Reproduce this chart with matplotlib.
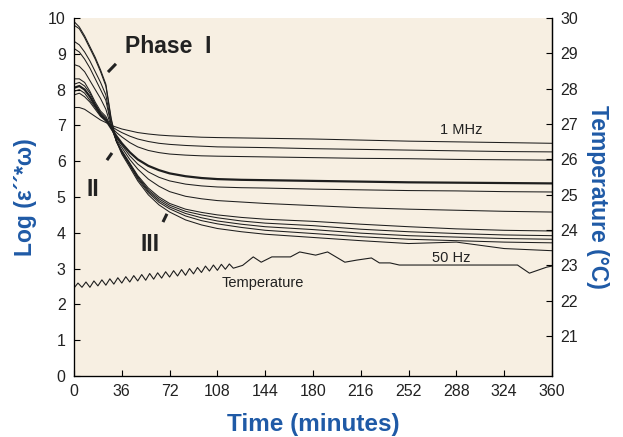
import matplotlib
matplotlib.use("Agg")
import matplotlib.pyplot as plt

plt.rcParams["font.family"] = ["Liberation Sans", "DejaVu Sans"]

# ---------------- data ----------------
time = [0, 4, 8, 12, 16, 20, 24, 28, 32, 36, 42, 48, 56, 64, 72, 84, 96, 108,
        126, 144, 180, 216, 252, 288, 324, 360]

curve_1mhz = [7.5, 7.5, 7.45, 7.35, 7.25, 7.15, 7.08, 7.0, 6.95, 6.9, 6.85, 6.8, 6.76,
              6.73, 6.71, 6.69, 6.67, 6.66, 6.65, 6.64, 6.62, 6.59, 6.56, 6.54, 6.52, 6.5]
curve_2 = [7.85, 7.9, 7.8, 7.65, 7.45, 7.25, 7.12, 6.98, 6.88, 6.8, 6.7, 6.62, 6.55,
           6.5, 6.47, 6.44, 6.42, 6.4, 6.39, 6.38, 6.35, 6.33, 6.31, 6.29, 6.27, 6.26]
curve_3 = [7.95, 8.0, 7.9, 7.7, 7.5, 7.3, 7.15, 6.95, 6.8, 6.68, 6.52, 6.4, 6.3,
           6.24, 6.2, 6.17, 6.15, 6.14, 6.13, 6.12, 6.1, 6.08, 6.07, 6.05, 6.04, 6.03]
curve_4 = [8.05, 8.1, 8.0, 7.8, 7.55, 7.3, 7.15, 6.92, 6.7, 6.5, 6.25, 6.05, 5.87,
           5.75, 5.66, 5.58, 5.53, 5.5, 5.48, 5.47, 5.45, 5.43, 5.41, 5.4, 5.39, 5.38]
curve_5 = [8.15, 8.2, 8.1, 7.9, 7.6, 7.35, 7.2, 6.93, 6.65, 6.45, 6.15, 5.92, 5.7,
           5.55, 5.45, 5.36, 5.31, 5.28, 5.26, 5.25, 5.22, 5.2, 5.18, 5.17, 5.15, 5.14]
curve_6 = [8.3, 8.3, 8.2, 7.95, 7.65, 7.4, 7.25, 6.95, 6.6, 6.38, 6.05, 5.78, 5.5,
           5.3, 5.15, 5.02, 4.95, 4.9, 4.86, 4.82, 4.76, 4.7, 4.66, 4.63, 4.6, 4.58]
curve_7 = [8.7, 8.65, 8.5, 8.25, 8.0, 7.75, 7.45, 6.95, 6.55, 6.3, 5.95, 5.6, 5.25,
           5.0, 4.82, 4.66, 4.57, 4.5, 4.43, 4.38, 4.32, 4.24, 4.17, 4.11, 4.07, 4.05]
curve_8 = [9.15, 9.05, 8.85, 8.6, 8.3, 8.0, 7.7, 7.0, 6.55, 6.28, 5.92, 5.57, 5.2,
           4.95, 4.77, 4.6, 4.5, 4.42, 4.33, 4.27, 4.2, 4.1, 4.03, 3.98, 3.94, 3.92]
curve_9 = [9.35, 9.25, 9.05, 8.8, 8.5, 8.2, 7.85, 7.05, 6.55, 6.26, 5.9, 5.54, 5.16,
           4.9, 4.72, 4.54, 4.42, 4.33, 4.24, 4.17, 4.09, 3.99, 3.92, 3.88, 3.84, 3.82]
curve_10 = [9.8, 9.7, 9.45, 9.15, 8.85, 8.5, 8.1, 7.15, 6.55, 6.24, 5.88, 5.5, 5.12,
            4.85, 4.67, 4.47, 4.34, 4.25, 4.15, 4.07, 3.98, 3.89, 3.82, 3.78, 3.74, 3.72]
curve_50hz = [9.9, 9.75, 9.5, 9.2, 8.9, 8.55, 8.15, 7.2, 6.55, 6.2, 5.83, 5.45, 5.06,
              4.78, 4.58, 4.36, 4.22, 4.12, 4.03, 3.96, 3.87, 3.78, 3.7, 3.74, 3.56, 3.5]

log_curves = [curve_1mhz, curve_2, curve_3, curve_4, curve_5, curve_6,
              curve_7, curve_8, curve_9, curve_10, curve_50hz]
thick_index = 3

temp_time = [0, 3, 6, 9, 12, 15, 18, 21, 24, 27, 30, 33, 36, 39, 42, 45, 48, 51, 54,
             57, 60, 63, 66, 69, 72, 75, 78, 81, 84, 87, 90, 93, 96, 99, 102, 105,
             108, 111, 114, 117, 120, 127, 135, 141, 149, 163, 170, 182, 191, 204,
             213, 224, 230, 238, 245, 334, 343, 356, 360]
temp_c = [22.36, 22.50, 22.38, 22.53, 22.38, 22.56, 22.42, 22.59, 22.44, 22.62, 22.47,
          22.65, 22.50, 22.68, 22.53, 22.71, 22.56, 22.74, 22.58, 22.77, 22.61, 22.79,
          22.64, 22.82, 22.67, 22.85, 22.70, 22.88, 22.72, 22.91, 22.76, 22.94, 22.80,
          22.98, 22.84, 23.01, 22.86, 23.03, 22.89, 23.04, 22.92, 23.00, 23.24, 23.09,
          23.24, 23.24, 23.38, 23.29, 23.38, 23.09, 23.15, 23.21, 23.07, 23.07, 23.01,
          23.01, 22.78, 22.95, 22.98]

x_ticks = [0, 36, 72, 108, 144, 180, 216, 252, 288, 324, 360]
left_ticks = list(range(0, 11))
right_ticks = list(range(21, 31))

# ---------------- style ----------------
blue = "#1f5aa6"
bg = "#f7efe2"
ink = "#1e1e1e"

fig = plt.figure(figsize=(6.23, 4.37), dpi=100)
ax = fig.add_axes([74 / 623, 1 - 376 / 437, (552 - 74) / 623, (376 - 18) / 437])
ax.set_facecolor(bg)

for i, c in enumerate(log_curves):
    ax.plot(time, c, color=ink, lw=1.6 if i == thick_index else 0.75,
            solid_joinstyle="round")

ax.set_xlim(0, 360)
ax.set_ylim(0, 10)
ax.set_xticks(x_ticks)
ax.set_yticks(left_ticks)
ax.tick_params(direction="in", length=4, width=0.8, labelsize=11.5,
               labelcolor="#222222", pad=6)
ax.spines["top"].set_visible(False)
for s in ["left", "bottom", "right"]:
    ax.spines[s].set_linewidth(0.9)
    ax.spines[s].set_color("#111111")

ax2 = ax.twinx()
ax2.plot(temp_time, temp_c, color=ink, lw=0.8)
ax2.set_ylim(19.87, 30)
ax2.set_yticks(right_ticks)
ax2.tick_params(direction="in", length=4, width=0.8, labelsize=11.5,
                labelcolor="#222222", pad=6)
ax2.spines["top"].set_visible(False)
ax2.spines["right"].set_linewidth(0.9)

ax.set_xlabel("Time (minutes)", fontsize=17.5, fontweight="bold", color=blue, labelpad=10)
ax.set_ylabel("Log (ε´´*ω)", fontsize=16.5, fontweight="bold", color=blue, labelpad=8)
ax2.set_ylabel("Temperature (°C)", fontsize=16.5, fontweight="bold", color=blue,
               rotation=270, labelpad=22)

# annotations
ax.text(38.5, 9.19, "Phase  I", fontsize=16.5, fontweight="bold", color="#222222",
        va="center", ha="left")
ax.text(14.3, 5.2, "II", fontsize=16.5, fontweight="bold", color="#222222",
        va="center", ha="center")
ax.text(57, 3.66, "III", fontsize=16.5, fontweight="bold", color="#222222",
        va="center", ha="center")
ax.plot([25.6, 31.6], [8.49, 8.72], color="#222222", lw=2.2, solid_capstyle="butt")
ax.plot([24.8, 28.6], [6.03, 6.23], color="#222222", lw=2.2, solid_capstyle="butt")
ax.plot([67, 70], [4.3, 4.53], color="#222222", lw=2.2, solid_capstyle="butt")
ax.text(275.5, 6.87, "1 MHz", fontsize=10.5, color="#222222", va="center", ha="left")
ax.text(270, 3.3, "50 Hz", fontsize=10.5, color="#222222", va="center", ha="left")
ax.text(111.5, 2.6, "Temperature", fontsize=10.5, color="#222222", va="center",
        ha="left")

fig.savefig("out.png", dpi=100, facecolor="white")
